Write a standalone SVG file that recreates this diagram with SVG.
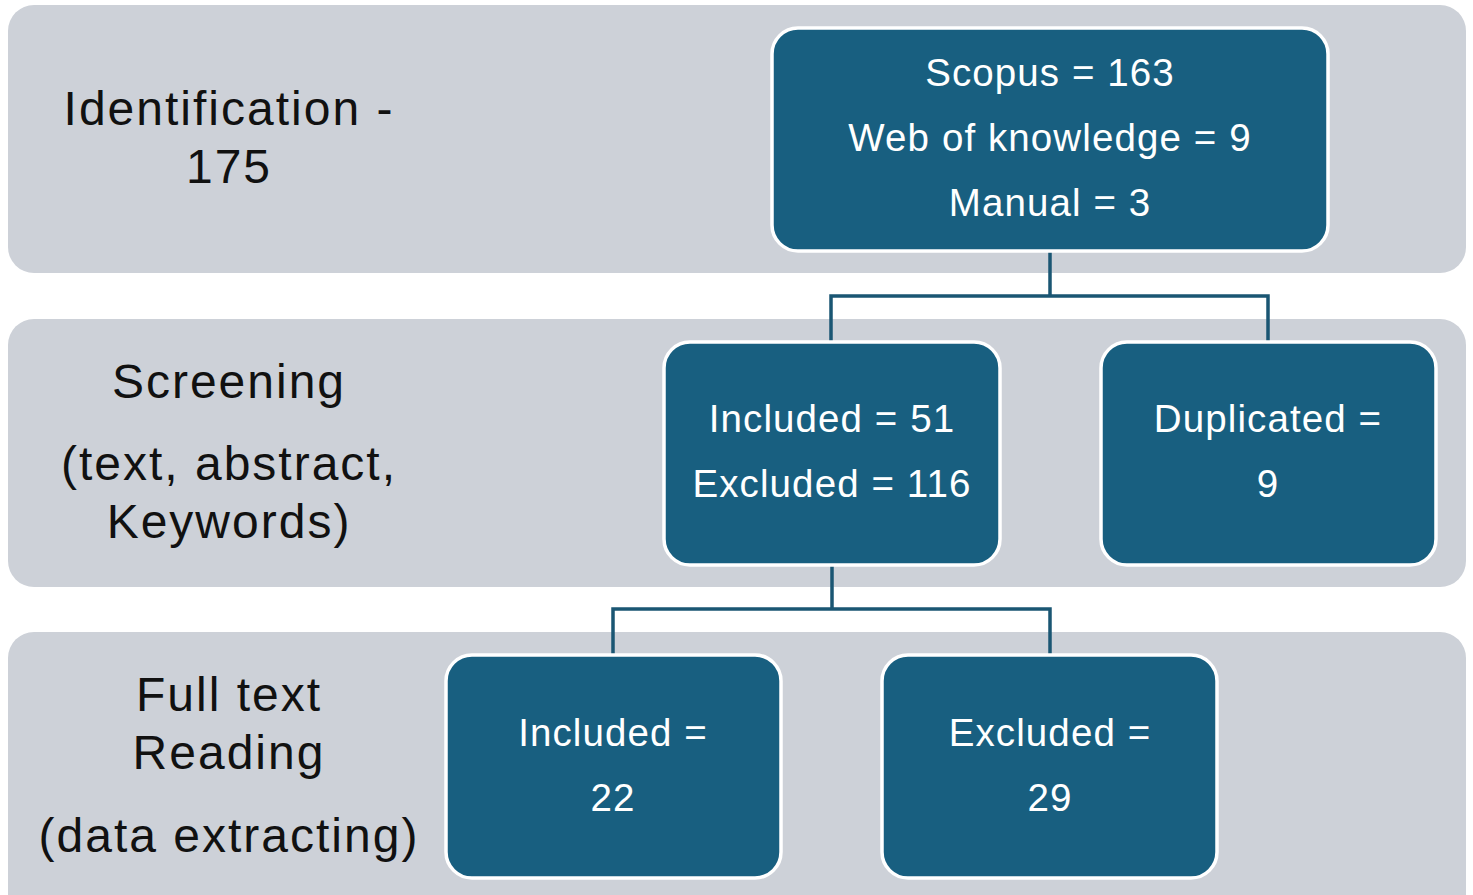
<svg xmlns="http://www.w3.org/2000/svg" width="1473" height="895" viewBox="0 0 1473 895">
<style>
.band{fill:#cdd1d8}
.box{fill:#185f80;stroke:#ffffff;stroke-width:3.5}
.bt{font-family:"Liberation Sans",Arial,sans-serif;font-size:38.5px;letter-spacing:1.1px;fill:#ffffff;text-anchor:middle}
.lt{font-family:"Liberation Sans",Arial,sans-serif;font-size:48px;letter-spacing:2px;fill:#111111;text-anchor:middle}
.con{fill:none;stroke:#1a5673;stroke-width:3.5}
</style>
<rect width="1473" height="895" fill="#ffffff"/>
<g id="bands">
<rect class="band" x="8" y="5" width="1458" height="268" rx="26"/>
<rect class="band" x="8" y="319" width="1458" height="268" rx="26"/>
<rect class="band" x="8" y="632" width="1458" height="290" rx="26"/>
</g>
<g id="label-identification">
<text class="lt" x="229" y="125">Identification -</text>
<text class="lt" x="229" y="183">175</text>
</g>
<g id="label-screening">
<text class="lt" x="229" y="398">Screening</text>
<text class="lt" x="229" y="480">(text, abstract,</text>
<text class="lt" x="229" y="538">Keywords)</text>
</g>
<g id="label-fulltext">
<text class="lt" x="229" y="711">Full text</text>
<text class="lt" x="229" y="769">Reading</text>
<text class="lt" x="229" y="852">(data extracting)</text>
</g>
<g id="connectors">
<path class="con" d="M1050 251 V296 M831 342 V296 H1268 V342"/>
<path class="con" d="M832 565 V609 M613 655 V609 H1050 V655"/>
</g>
<g id="node-sources">
<rect class="box" x="772" y="28" width="556" height="223" rx="26"/>
<text class="bt" x="1050" y="86">Scopus = 163</text>
<text class="bt" x="1050" y="151">Web of knowledge = 9</text>
<text class="bt" x="1050" y="216">Manual = 3</text>
</g>
<g id="node-screen-included">
<rect class="box" x="664" y="342" width="336" height="223" rx="26"/>
<text class="bt" x="832" y="432">Included = 51</text>
<text class="bt" x="832" y="497">Excluded = 116</text>
</g>
<g id="node-duplicated">
<rect class="box" x="1101" y="342" width="335" height="223" rx="26"/>
<text class="bt" x="1268" y="432">Duplicated =</text>
<text class="bt" x="1268" y="497">9</text>
</g>
<g id="node-full-included">
<rect class="box" x="446" y="655" width="335" height="223" rx="26"/>
<text class="bt" x="613" y="746">Included =</text>
<text class="bt" x="613" y="811">22</text>
</g>
<g id="node-full-excluded">
<rect class="box" x="882" y="655" width="335" height="223" rx="26"/>
<text class="bt" x="1050" y="746">Excluded =</text>
<text class="bt" x="1050" y="811">29</text>
</g>
</svg>
